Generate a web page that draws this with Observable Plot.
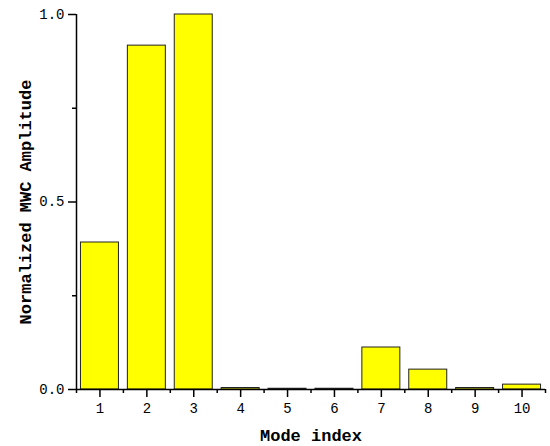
<!DOCTYPE html>
<html>
<head>
<meta charset="utf-8">
<script src="https://cdn.jsdelivr.net/npm/d3@7"></script>
<script src="https://cdn.jsdelivr.net/npm/@observablehq/plot@0.6"></script>
<style>
  body { margin: 0; background: #fff; }
  svg text { font-family: "Liberation Mono", monospace; }
  g[aria-label="x-axis label"] text, g[aria-label="y-axis label"] text { font-weight: bold; font-size: 17px; }
</style>
</head>
<body>
<div id="chart"></div>
<script>
const modes = [1, 2, 3, 4, 5, 6, 7, 8, 9, 10];
const amplitudes = [0.392, 0.917, 1.0, 0.004, 0.002, 0.002, 0.112, 0.053, 0.004, 0.013];
const yTicks = [0, 0.5, 1.0];
const yMinorTicks = [0.25, 0.75];
const xMinorTicks = [0.5, 1.5, 2.5, 3.5, 4.5, 5.5, 6.5, 7.5, 8.5, 9.5, 10.5];

const data = modes.map((m, i) => ({mode: m, value: amplitudes[i]}));
const half = 0.405;

const chart = Plot.plot({
  width: 550,
  height: 446,
  marginLeft: 76,
  marginRight: 5,
  marginTop: 14,
  marginBottom: 57,
  style: {fontSize: "14px", fontFamily: "Liberation Mono, monospace", background: "#fff", color: "#000"},
  x: {domain: [0.5, 10.5]},
  y: {domain: [0, 1]},
  marks: [
    Plot.rectY(data, {x1: d => d.mode - half, x2: d => d.mode + half, y: "value", fill: "#ffff00", stroke: "#222", strokeWidth: 1}),
    Plot.axisY({ticks: yTicks, tickSize: 8, tickPadding: 4, tickFormat: d3.format(".1f"), label: "Normalized MWC Amplitude", labelAnchor: "center", labelArrow: "none", labelOffset: 58, strokeWidth: 1.5}),
    Plot.axisY({ticks: yMinorTicks, tickSize: 4, tickFormat: () => "", label: null, strokeWidth: 1.5}),
    Plot.axisX({ticks: modes, tickSize: 8, tickPadding: 6, tickFormat: d3.format("d"), label: "Mode index", labelAnchor: "center", labelArrow: "none", labelOffset: 51, strokeWidth: 1.5}),
    Plot.axisX({ticks: xMinorTicks, tickSize: 4, tickFormat: () => "", label: null, strokeWidth: 1.5}),
    Plot.ruleY([0], {stroke: "#000", strokeWidth: 1.5}),
    Plot.ruleX([0.5], {stroke: "#000", strokeWidth: 1.5})
  ]
});
document.getElementById("chart").appendChild(chart);
</script>
</body>
</html>
